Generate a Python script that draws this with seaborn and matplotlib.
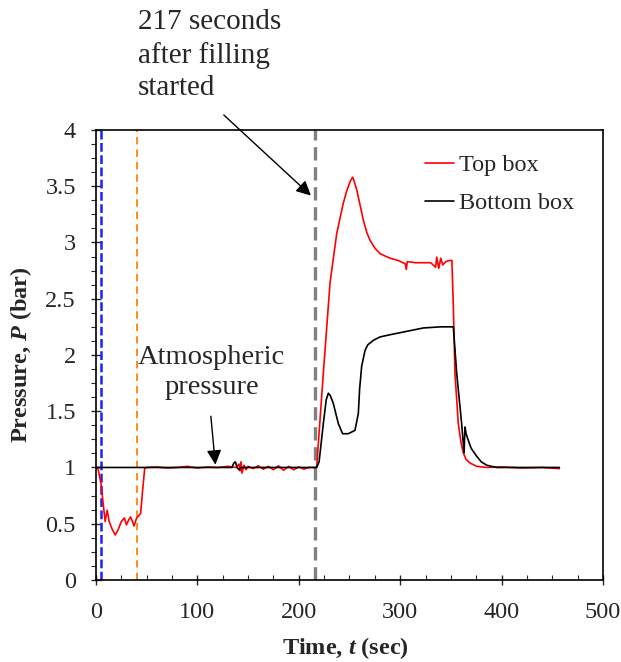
import matplotlib
matplotlib.use("Agg")
import matplotlib.pyplot as plt
import seaborn as sns
import pandas as pd
from matplotlib.ticker import MultipleLocator

# top box pressure (red)
top_t = [0, 2, 5, 9, 11, 13, 16, 19, 22, 25, 28, 30, 32, 34, 36, 37.5, 40, 42, 44, 46, 48,
         50, 60, 70, 80, 90, 100, 110, 120, 130, 138, 141, 142, 143, 144, 146, 148, 150,
         155, 160, 165, 170, 175, 180, 185, 190, 195, 200, 205, 210, 215, 217.6,
         224.2, 230.8, 237.4, 243.9, 247, 250.5, 253.1, 254, 257.1, 260, 263.6, 267, 270.2,
         275, 280.1, 285, 290, 298, 305, 306, 307, 315, 322.8, 330, 335, 336, 338, 340,
         342, 345, 349, 351, 352.4, 354, 357.3, 360, 362.3, 365, 368.8, 375.4, 385, 400,
         420, 440, 457]
top_p = [1.00, 0.99, 0.85, 0.52, 0.62, 0.52, 0.45, 0.40, 0.45, 0.52, 0.55, 0.49, 0.53, 0.56,
         0.52, 0.48, 0.55, 0.57, 0.59, 0.80, 0.99,
         1.00, 1.005, 0.995, 1.00, 1.01, 0.995, 1.005, 1.00, 1.01, 1.00, 1.03, 0.97, 1.05,
         0.95, 1.02, 0.98, 1.01,
         0.99, 1.015, 0.985, 1.01, 0.98, 1.015, 0.975, 1.01, 0.98, 1.005, 0.985, 1.00,
         1.00, 1.00,
         1.84, 2.64, 3.08, 3.35, 3.45, 3.54, 3.58, 3.56, 3.47, 3.35, 3.20, 3.09, 3.02,
         2.95, 2.90, 2.88, 2.86, 2.84, 2.81, 2.76, 2.83, 2.82, 2.82, 2.82, 2.78, 2.87,
         2.77, 2.86, 2.80, 2.83, 2.84, 2.84, 2.43, 1.84, 1.39, 1.22, 1.13, 1.07, 1.04,
         1.01, 1.00, 1.005, 0.995, 1.00, 0.99]

# bottom box pressure (black)
bot_t = [0, 130, 134, 136, 137.5, 139, 141, 143, 217.6, 220, 224.2, 227, 229.1, 231, 234,
         239, 243.2, 248.8, 255.4, 258.7, 260, 262, 265.3, 268, 273.5, 280, 290, 306.4,
         322.8, 340, 352.4, 355.7, 360.6, 363, 363.9, 365, 367.2, 370, 375.4, 380, 385.3,
         395, 457]
bot_p = [1.00, 1.00, 1.00, 1.04, 1.05, 1.00, 0.98, 1.00, 1.00, 1.05, 1.39, 1.60, 1.66,
         1.64, 1.57, 1.39, 1.30, 1.30, 1.33, 1.48, 1.70, 1.90, 2.04, 2.09, 2.13, 2.16,
         2.18, 2.21, 2.24, 2.25, 2.25, 1.84, 1.39, 1.13, 1.36, 1.30, 1.24, 1.17, 1.10,
         1.05, 1.02, 1.00, 1.00]

# reference markers (sec)
vline_t = [4.6, 40, 216]
vline_colors = ["#1f1fff", "#ff8c1a", "#808080"]

sns.set_style("ticks")
plt.rcParams["font.family"] = ["Liberation Serif", "DejaVu Serif"]
plt.rcParams["mathtext.fontset"] = "custom"
plt.rcParams["mathtext.it"] = "Liberation Serif:italic:bold"
plt.rcParams["mathtext.rm"] = "Liberation Serif:bold"

top_df = pd.DataFrame({"t": top_t, "P": top_p})
bot_df = pd.DataFrame({"t": bot_t, "P": bot_p})

fig = plt.figure(figsize=(6.21, 6.62), dpi=100)
ax = fig.add_axes([0.1546, 0.1239, 0.8164, 0.6798])

ax.axvline(vline_t[0], color=vline_colors[0], lw=1.8, dashes=(3.5, 1.4), zorder=1)
ax.axvline(vline_t[1], color=vline_colors[1], lw=1.4, dashes=(3.8, 2.6), zorder=1)
ax.axvline(vline_t[2], color=vline_colors[2], lw=2.4, dashes=(4, 2), zorder=1)

sns.lineplot(data=top_df, x="t", y="P", color="red", lw=1.2, label="Top box", ax=ax)
sns.lineplot(data=bot_df, x="t", y="P", color="black", lw=1.2, label="Bottom box", ax=ax)

ax.set_xlim(0, 500)
ax.set_ylim(0, 4)
ax.xaxis.set_major_locator(MultipleLocator(100))
ax.xaxis.set_minor_locator(MultipleLocator(25))
ax.yaxis.set_major_locator(MultipleLocator(0.5))
ax.yaxis.set_minor_locator(MultipleLocator(0.125))
ax.set_yticks([0, 0.5, 1, 1.5, 2, 2.5, 3, 3.5, 4])
ax.set_yticklabels(["0", "0.5", "1", "1.5", "2", "2.5", "3", "3.5", "4"])

ax.tick_params(axis="both", which="major", direction="inout", length=7, width=1,
               labelsize=17.5)
ax.tick_params(axis="x", which="major", pad=12)
ax.tick_params(axis="y", which="major", pad=11)
ax.tick_params(axis="x", which="minor", direction="in", length=3.5, width=0.8)
ax.tick_params(axis="y", which="minor", direction="out", length=3.5, width=0.8)
for s in ax.spines.values():
    s.set_color("black")
    s.set_linewidth(1.2)

ax.set_xlabel(r"Time, $\mathit{t}$ (sec)", fontsize=17.5, fontweight="bold")
ax.set_ylabel(r"Pressure, $\mathit{P}$ (bar)", fontsize=17.5, fontweight="bold")
ax.xaxis.set_label_coords(0.491, -0.122)
ax.yaxis.set_label_coords(-0.122, 0.5)

ax.legend(loc="upper left", bbox_to_anchor=(0.649, 0.946), frameon=False, fontsize=17.5,
          handlelength=1.2, handletextpad=0.2, labelspacing=0.66, borderpad=0,
          borderaxespad=0)

ax.text(41.4, 5.075, "217 seconds\nafter filling\nstarted", fontsize=21, ha="left",
        va="top", linespacing=1.32, clip_on=False)
ax.annotate("", xy=(214, 3.40), xytext=(124, 4.15), annotation_clip=False,
            arrowprops=dict(arrowstyle="-|>", color="black", lw=1, mutation_scale=22))

ax.text(114, 2.085, "Atmospheric\npressure", fontsize=20.5, ha="center", va="top",
        linespacing=1.26)
ax.annotate("", xy=(118, 1.0), xytext=(113, 1.48),
            arrowprops=dict(arrowstyle="-|>", color="black", lw=1, mutation_scale=22))

fig.savefig("out.png", dpi=100)
